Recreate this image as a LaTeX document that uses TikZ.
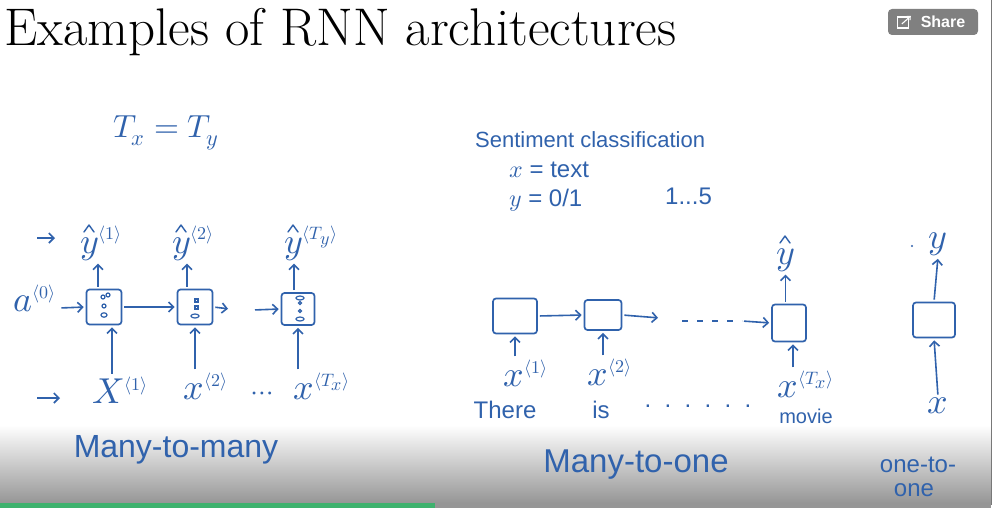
\documentclass[tikz,border=0pt]{standalone}
\usepackage{fontspec}
\usepackage{amsmath}
\usepackage{unicode-math}
\setmathfont{Latin Modern Math}
\usetikzlibrary{arrows.meta}
\newfontfamily\handfont{Liberation Sans}
\newfontfamily\uifont{Liberation Sans}
\definecolor{ink}{RGB}{48,98,172}
\definecolor{shareGray}{RGB}{128,128,128}
\definecolor{barGreen}{RGB}{62,178,110}
\definecolor{barGray}{RGB}{150,150,150}
\definecolor{edgeGray}{RGB}{120,120,120}
\newcommand{\tstep}[1]{^{\scriptscriptstyle\langle #1\rangle}}
\begin{document}
\begin{tikzpicture}[
        x=1pt, y=-1pt,
        cell/.style={
            draw=ink,
            line width=1.7pt,
            rounded corners=3pt,
            minimum width=35pt,
            minimum height=35pt,
            inner sep=0pt
        },
        var/.style={
            text=ink,
            font=\fontsize{36}{38}\selectfont,
            inner sep=1pt
        },
        hand/.style={
            text=ink,
            font=\handfont\fontsize{24}{28}\selectfont,
            inner sep=1pt
        },
        arrow/.style={-{Straight Barb[length=5pt,width=10pt]}, draw=ink, line width=1.6pt, shorten >=2pt, shorten <=2pt},
        hatmark/.style={draw=ink, line width=1.4pt, line cap=round, line join=round},
        blob/.style={draw=ink, line width=1.2pt}
    ]

        % frame of the video screenshot
        \useasboundingbox (0,0) rectangle (1001,508);
        \fill[white] (0,0) rectangle (1001,508);
        \shade[top color=white, bottom color=barGray] (0,425) rectangle (991,503);
        \fill[barGreen] (0,503) rectangle (435,508);
        \fill[barGray] (435,503) rectangle (991,508);
        \draw[edgeGray, line width=1pt] (991,0) -- (991,505);

        % title and share button
        \node[anchor=base west, inner sep=0pt, font=\fontsize{53}{56}\selectfont] (title) at (4,46) {Examples of RNN architectures};
        \node[fill=shareGray, rounded corners=4pt, minimum width=90pt, minimum height=26pt,
              text=white, font=\uifont\bfseries\fontsize{16}{18}\selectfont, inner sep=0pt] (share) at (933,22) {\hspace{20pt}Share};
        \draw[white, line width=1.1pt] (share.west) ++(10,-5) rectangle ++(11,11);
        \draw[white, line width=1.1pt, -{Straight Barb[length=2.5pt,width=5pt]}] (share.west) ++(14,2) -- ++(9,-8);

        % many-to-many
        \node[var, font=\fontsize{32}{34}\selectfont] (txty) at (166,133) {$T_x = T_y$};
        \node[cell] (c1) at (104,307) {};
        \node[cell] (c2) at (195,307) {};
        \node[cell, minimum width=33pt, minimum height=32pt] (c3) at (298,309) {};
        \node[var, anchor=base west] (y1) at (79,253) {$y\tstep{1}$};
        \node[var, anchor=base west] (y2) at (171,253) {$y\tstep{2}$};
        \node[var, anchor=base west] (y3) at (283,253) {$y\tstep{T_y}$};
        \node[var] (x1) at (120,390) {$X\tstep{1}$};
        \node[var] (x2) at (206,386) {$x\tstep{2}$};
        \node[var] (x3) at (322,386) {$x\tstep{T_x}$};
        \node[var, font=\fontsize{28}{30}\selectfont] (xdots) at (262,396) {$\cdots$};
        \node[var] (a0) at (35,298) {$a\tstep{0}$};
        \coordinate (ptrA) at (35,238);
        \coordinate (ptrB) at (57,238);
        \coordinate (ptrC) at (35,398);
        \coordinate (ptrD) at (62,398);
        \coordinate (c2out) at (230,309);
        \coordinate (c3in) at (253,310);

        \draw[arrow] (ptrA) -- (ptrB);
        \draw[arrow] (ptrC) -- (ptrD);
        \draw[arrow] (a0.east) ++(2,10) -- (c1.west);
        \draw[arrow] (c1.east) -- (c2.west);
        \draw[arrow] (c2.east) -- (c2out);
        \draw[arrow] (c3in) -- (c3.west);
        \draw[arrow] ([xshift=-6pt]c1.north) -- ([xshift=-6pt]c1.north |- y1.south);
        \draw[arrow] ([xshift=-8pt]c2.north) -- ([xshift=-8pt]c2.north |- y2.south);
        \draw[arrow] ([xshift=-4pt]c3.north) -- ([xshift=-4pt]c3.north |- y3.south);
        \draw[arrow] ([xshift=8pt]c1.south |- x1.north) -- ([xshift=8pt]c1.south);
        \draw[arrow] (c2.south |- x2.north) -- (c2.south);
        \draw[arrow] (c3.south |- x3.north) -- (c3.south);
        \draw[blob] ([yshift=-8pt]c1.center) ellipse (3pt and 2.2pt);
        \draw[blob] ([yshift=1pt]c1.center) circle (2pt);
        \draw[blob] ([xshift=-1pt,yshift=10pt]c1.center) circle (2pt);
        \draw[blob] ([xshift=4pt,yshift=12pt]c1.center) circle (2pt);
        \draw[blob] ([yshift=-9pt]c2.center) ellipse (4pt and 2pt);
        \draw[blob] ([yshift=1pt]c2.center) rectangle ++(3,3);
        \draw[blob] ([yshift=8pt]c2.center) rectangle ++(3,3);
        \draw[blob] ([xshift=2pt,yshift=-10pt]c3.center) ellipse (4pt and 2pt);
        \draw[blob] ([xshift=2pt,yshift=-2pt]c3.center) circle (1.5pt);
        \draw[blob] ([xshift=2pt,yshift=6pt]c3.center) circle (1.5pt);
        \draw[blob] ([xshift=2pt,yshift=11pt]c3.center) ellipse (4pt and 2pt);
        \node[hand, font=\handfont\fontsize{32}{34}\selectfont] (mtm) at (176,450) {Many-to-many};

        % many-to-one
        \node[hand, anchor=base west, font=\handfont\fontsize{22}{26}\selectfont] (sent) at (474,147) {Sentiment classification};
        \node[hand, anchor=base west] (xtext) at (508,177) {$x$ = text};
        \node[hand, anchor=base west] (ycls) at (508,206) {$y$ = 0/1};
        \node[hand, anchor=base west] (yrange) at (664,204) {1...5};
        \node[cell, minimum width=44pt] (cA) at (515,316) {};
        \node[cell, minimum width=37pt, minimum height=30pt] (cB) at (603,315) {};
        \node[cell, minimum width=34pt, minimum height=37pt] (cC) at (789,323) {};
        \node[var, anchor=base west] (yC) at (775,264) {$y$};
        \node[var] (xA) at (526,373) {$x\tstep{1}$};
        \node[var] (xB) at (610,372) {$x\tstep{2}$};
        \node[var] (xC) at (806,384) {$x\tstep{T_x}$};
        \node[hand] (wThere) at (505,410) {There};
        \node[hand] (wIs) at (601,410) {is};
        \node[hand] (wDots) at (698,406) {.\ \ .\ \ .\ \ .\ \ .\ \ .};
        \node[hand, font=\handfont\fontsize{20}{22}\selectfont] (wMovie) at (806,416) {movie};
        \coordinate (cBout) at (660,318);
        \coordinate (dashA) at (682,321);
        \coordinate (dashB) at (742,321);

        \draw[arrow] (cA.east) -- (cB.west);
        \draw[arrow] (cB.east) -- (cBout);
        \draw[ink, line width=1.6pt, dash pattern=on 6pt off 9pt] (dashA) -- (dashB);
        \draw[arrow] (dashB) -- (cC.west);
        \draw[arrow] (cC.north -| yC.south) -- (yC.south);
        \draw[arrow] (cA.south |- xA.north) -- (cA.south);
        \draw[arrow] (cB.south |- xB.north) -- (cB.south);
        \draw[arrow] ([xshift=4pt]cC.south |- xC.north) -- ([xshift=4pt]cC.south);
        \node[hand, font=\handfont\fontsize{33}{35}\selectfont] (mto) at (636,465) {Many-to-one};

        % hats over the predicted outputs
        \foreach \n in {y1,y2,y3,yC}{
            \draw[hatmark] ([shift={(5,-21)}]\n.base west) -- ++(5,-7) -- ++(5,7);
        }

        % one-to-one
        \node[cell, minimum width=42pt] (cD) at (934,320) {};
        \node[var] (yD) at (938,244) {$y$};
        \fill[ink] (912,246) circle (1.2pt);
        \node[var] (xD) at (938,406) {$x$};
        \draw[arrow] (cD.north) -- (yD.south);
        \draw[arrow] (xD.north) -- (cD.south);
        \node[hand] (oto) at (918,465) {one-to-};
        \node[hand] (oto2) at (914,490) {one};

    \end{tikzpicture}
\end{document}
